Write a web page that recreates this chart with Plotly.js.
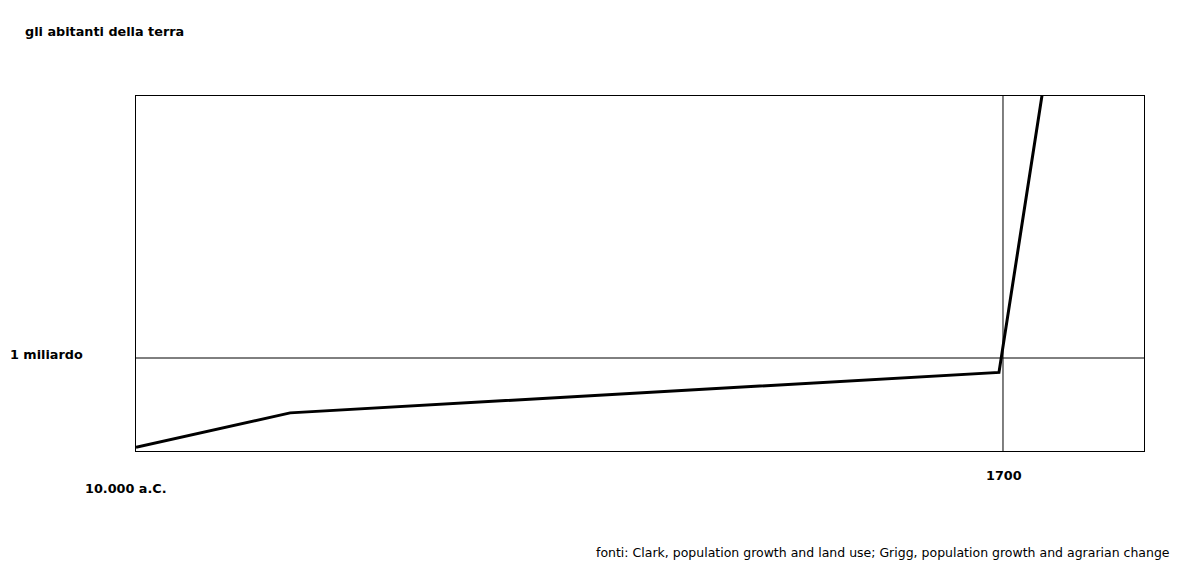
<!DOCTYPE html>
<html>
<head>
<meta charset="utf-8">
<script src="https://cdn.plot.ly/plotly-3.0.1.min.js"></script>
<style>
  html, body { margin: 0; padding: 0; background: #fff; }
  #chart { width: 1194px; height: 577px; }
</style>
</head>
<body>
<div id="chart"></div>
<script>
// years (negative = a.C.) and inhabitants in billions
var years = [-10000, -7920, 1646, 2226];
var abitanti = [0.04, 0.41, 0.845, 3.82];

var refYear = 1700;
var refPop = 1;

var trace = {
  x: years,
  y: abitanti,
  mode: 'lines',
  type: 'scatter',
  line: { color: '#000', width: 3 },
  hoverinfo: 'skip'
};

var labelFont = { size: 12.8, family: 'DejaVu Sans', weight: 'bold', color: '#000' };

var layout = {
  width: 1194,
  height: 577,
  margin: { l: 136, r: 50, t: 96, b: 126 },
  paper_bgcolor: '#fff',
  plot_bgcolor: '#fff',
  showlegend: false,
  font: { family: 'DejaVu Sans', size: 12, color: '#000' },
  xaxis: {
    range: [-10000, 3603],
    showgrid: false, zeroline: false, showticklabels: false, ticks: '',
    showline: true, mirror: true, linecolor: '#000', linewidth: 1
  },
  yaxis: {
    range: [0, 3.817],
    showgrid: false, zeroline: false, showticklabels: false, ticks: '',
    showline: true, mirror: true, linecolor: '#000', linewidth: 1
  },
  shapes: [
    { type: 'line', xref: 'paper', yref: 'y', x0: 0, x1: 1, y0: refPop, y1: refPop,
      line: { color: '#000', width: 1 } },
    { type: 'line', xref: 'x', yref: 'paper', x0: refYear, x1: refYear, y0: 0, y1: 1,
      line: { color: '#000', width: 1 } }
  ],
  annotations: [
    { text: 'gli abitanti della terra', xref: 'paper', yref: 'paper',
      x: -113 / 1008, y: 1 + 65 / 355, xanchor: 'left', yanchor: 'middle',
      showarrow: false, font: labelFont },
    { text: '1 miliardo', xref: 'paper', yref: 'y',
      x: -128 / 1008, y: refPop, yshift: 4, xanchor: 'left', yanchor: 'middle',
      showarrow: false, font: labelFont },
    { text: '10.000 a.C.', xref: 'x', yref: 'paper',
      x: years[0], y: -37 / 355, xshift: -53, xanchor: 'left', yanchor: 'middle',
      showarrow: false, font: labelFont },
    { text: '1700', xref: 'x', yref: 'paper',
      x: refYear, y: -25 / 355, xshift: 1, xanchor: 'center', yanchor: 'middle',
      showarrow: false, font: labelFont },
    { text: 'fonti: Clark, population growth and land use; Grigg, population growth and agrarian change',
      xref: 'paper', yref: 'paper',
      x: 1 + 28 / 1008, y: -101 / 355, xanchor: 'right', yanchor: 'middle',
      showarrow: false, font: { size: 12.5, family: 'DejaVu Sans', color: '#000' } }
  ]
};

Plotly.newPlot('chart', [trace], layout, { displayModeBar: false, staticPlot: true });
</script>
</body>
</html>
